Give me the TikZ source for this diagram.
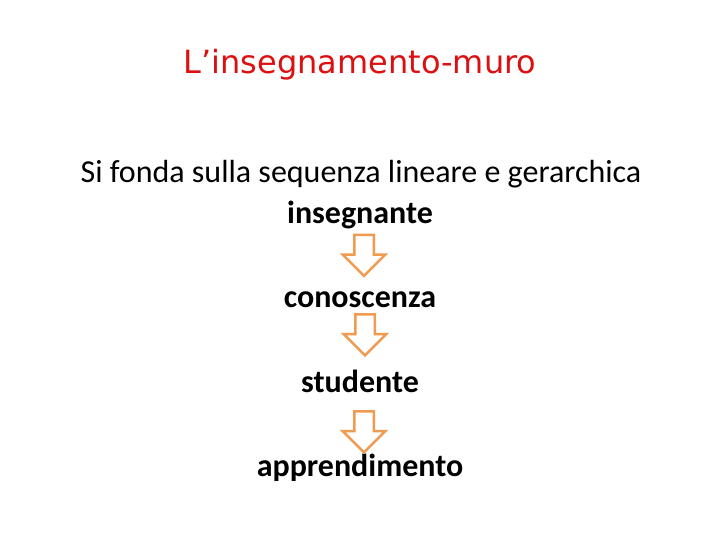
\documentclass[tikz,border=0pt]{standalone}
\usepackage{fontspec}
\setmainfont{Carlito}
\newfontfamily\titlefont{DejaVu Sans}
\usetikzlibrary{shapes.arrows}
\definecolor{titlered}{RGB}{220,16,16}
\definecolor{arroworange}{RGB}{240,155,80}
\begin{document}
\begin{tikzpicture}
        [
            x = 1pt, y = -1pt,
            heading/.style = {anchor=base, font=\titlefont\fontsize{32}{36}\selectfont, text=titlered,
                inner sep=0pt},
            line/.style = {anchor=base, font=\fontsize{32}{36}\selectfont, inner sep=0pt},
            word/.style = {anchor=base, font=\fontsize{32}{36}\selectfont\bfseries, inner sep=0pt},
            down/.style = {
                draw=arroworange, line width=2.5pt, fill=white, single arrow,
                single arrow head extend=11.5pt, single arrow head indent=0pt,
                shape border rotate=270, inner sep=8.5pt,
                minimum width=40pt, minimum height=41pt}
        ]
        \useasboundingbox (0,0) rectangle (720,540);
        \node [heading] (Title) at (360,74) {L’insegnamento-muro};
        \node [line] (Intro) at (361,183) {Si fonda sulla sequenza lineare e gerarchica};
        \node [word] (Insegnante) at (360,223) {insegnante};
        \node [word] (Conoscenza) at (360,307) {conoscenza};
        \node [word] (Studente) at (360,392) {studente};
        \node [word] (Apprendimento) at (360,476) {apprendimento};
        \node [down] (InsCon) at (364,250.5) {};
        \node [down] (ConStu) at (365,330) {};
        \node [down] (StuApp) at (364,427) {};
\end{tikzpicture}
\end{document}
